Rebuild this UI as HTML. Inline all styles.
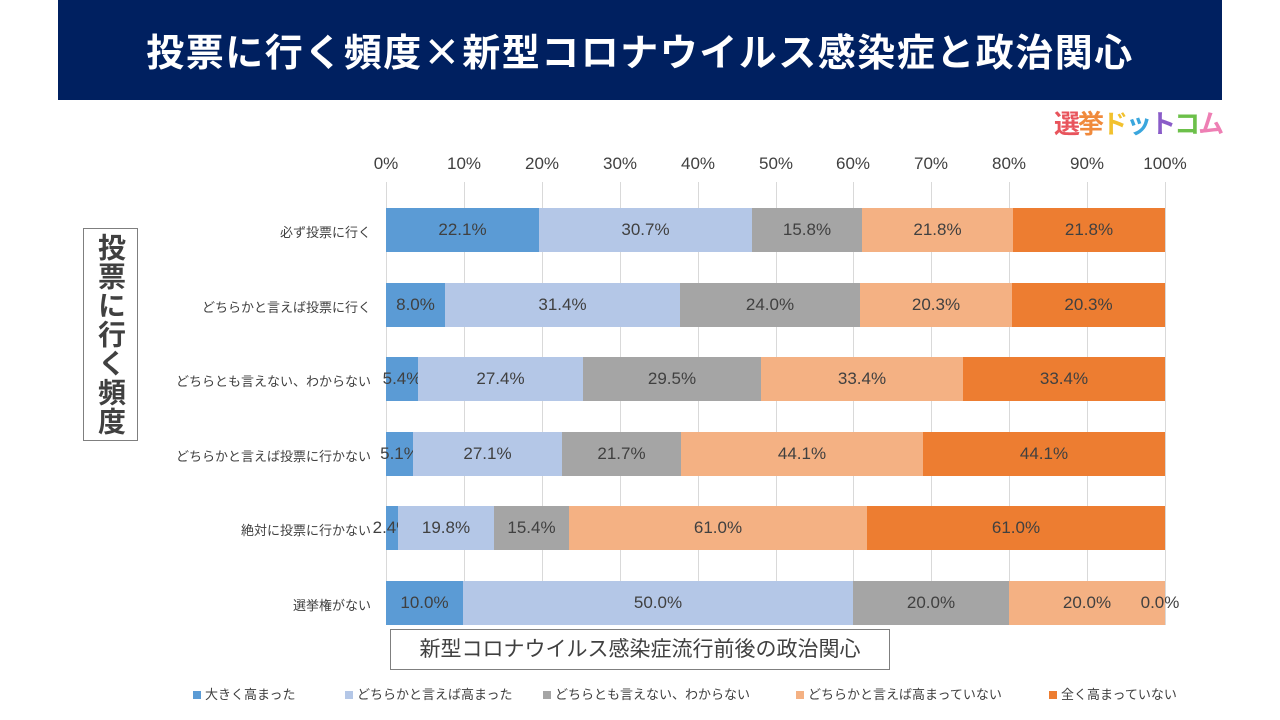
<!DOCTYPE html>
<html><head><meta charset="utf-8"><style>
body{margin:0;width:1280px;height:720px;background:#fff;position:relative;overflow:hidden;font-family:"Liberation Sans","Noto Sans CJK JP",sans-serif;}
.a{position:absolute}
.hdr{left:58px;top:0;width:1164px;height:100px;background:#002060;color:#fff;font-size:38px;font-weight:bold;text-align:center;line-height:100px;letter-spacing:1.5px;font-family:"Noto Sans CJK JP",sans-serif;white-space:nowrap}
.tick{top:154px;font-size:17px;color:#404040;width:60px;margin-left:-30px;text-align:center}
.grid{top:182px;width:1px;height:443px;background:#d9d9d9}
.seg{height:44px;display:flex;align-items:center;justify-content:center;font-size:17px;color:#404040;white-space:nowrap}
.cat{right:909px;font-size:13px;color:#404040;text-align:right;white-space:nowrap}
.lg{top:684px;font-size:13px;color:#404040;white-space:nowrap}
.lg i{display:inline-block;width:8px;height:8px;margin-right:4px}
</style></head><body>
<div class="a hdr">投票に行く頻度×新型コロナウイルス感染症と政治関心</div>
<div class="a" style="left:1054px;top:104px;font-size:26px;font-weight:bold;letter-spacing:-2px;white-space:nowrap"><span style="color:#e8545c">選</span><span style="color:#f08a3c">挙</span><span style="color:#f2c12e">ド</span><span style="color:#3aa6dd">ッ</span><span style="color:#8a5cc8">ト</span><span style="color:#6cc04a">コ</span><span style="color:#ee7fb4">ム</span></div>
<div id="g"></div>
<div class="a" style="left:83px;top:228px;width:53px;height:211px;border:1px solid #7f7f7f;color:#404040;font-size:28px;font-weight:bold;writing-mode:vertical-rl;text-align:center;line-height:53px;letter-spacing:1px">投票に行く頻度</div>
<div class="a" style="left:390px;top:629px;width:498px;height:39px;border:1px solid #7f7f7f;color:#404040;font-size:21px;text-align:center;line-height:39px">新型コロナウイルス感染症流行前後の政治関心</div>
<div class="a lg" style="left:193px"><i style="background:#5B9BD5"></i>大きく高まった</div>
<div class="a lg" style="left:345px"><i style="background:#B4C7E7"></i>どちらかと言えば高まった</div>
<div class="a lg" style="left:543px"><i style="background:#A5A5A5"></i>どちらとも言えない、わからない</div>
<div class="a lg" style="left:796px"><i style="background:#F4B183"></i>どちらかと言えば高まっていない</div>
<div class="a lg" style="left:1049px"><i style="background:#ED7D31"></i>全く高まっていない</div>
<script>
var g=document.getElementById('g'),h='';
for(var i=0;i<=10;i++){var x=386+i*77.9;h+='<div class="a grid" style="left:'+Math.round(x)+'px"></div><div class="a tick" style="left:'+Math.round(x)+'px">'+(i*10)+'%</div>';}
var C=['#5B9BD5','#B4C7E7','#A5A5A5','#F4B183','#ED7D31'];
var R=[['必ず投票に行く',[386,539,752,862,1013,1165],['22.1%','30.7%','15.8%','21.8%','21.8%']],
['どちらかと言えば投票に行く',[386,445,680,860,1012,1165],['8.0%','31.4%','24.0%','20.3%','20.3%']],
['どちらとも言えない、わからない',[386,418,583,761,963,1165],['5.4%','27.4%','29.5%','33.4%','33.4%']],
['どちらかと言えば投票に行かない',[386,413,562,681,923,1165],['5.1%','27.1%','21.7%','44.1%','44.1%']],
['絶対に投票に行かない',[386,398,494,569,867,1165],['2.4%','19.8%','15.4%','61.0%','61.0%']],
['選挙権がない',[386,463,853,1009,1165,1165],['10.0%','50.0%','20.0%','20.0%','0.0%']]];
var tops=[208,283,357,432,506,581];
R.forEach(function(r,k){var t=tops[k];h+='<div class="a cat" style="top:'+(t+14)+'px">'+r[0]+'</div>';
for(var j=0;j<5;j++){var a=r[1][j],b=r[1][j+1],w=b-a;
if(w<1){h+='<div class="a seg" style="left:'+(b-35)+'px;top:'+t+'px;width:60px">'+r[2][j]+'</div>';continue;}
h+='<div class="a seg" style="left:'+a+'px;top:'+t+'px;width:'+w+'px;background:'+C[j]+'"></div>';
var cx=(a+b)/2;h+='<div class="a seg" style="left:'+(cx-40)+'px;top:'+t+'px;width:80px">'+r[2][j]+'</div>';}});
g.innerHTML=h;
</script>
</body></html>
